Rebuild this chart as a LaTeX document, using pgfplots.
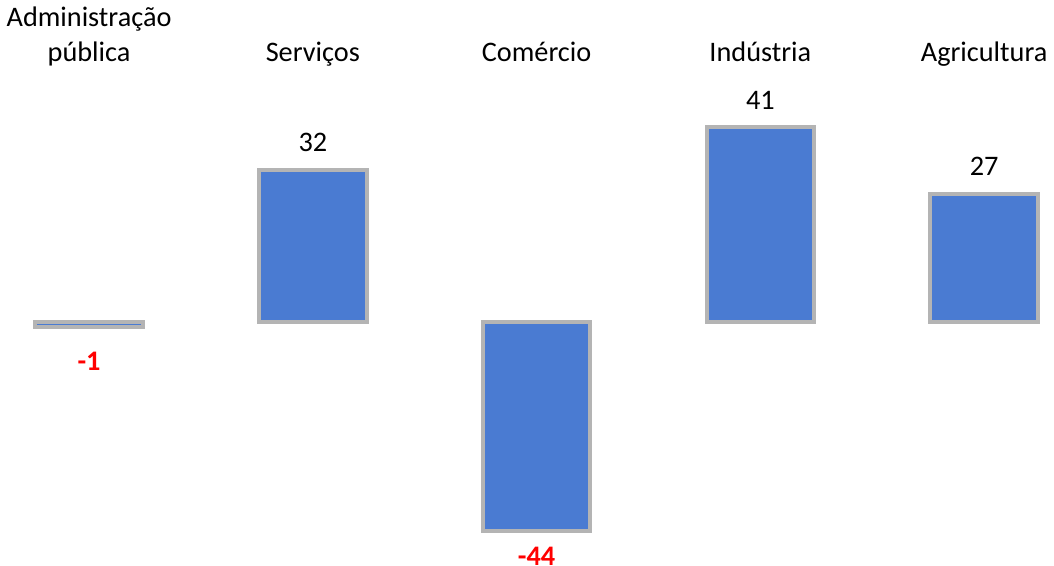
\documentclass[border=0pt]{standalone}
\usepackage{fontspec}
\setmainfont{Carlito}
\usepackage{pgfplots}
\pgfplotsset{compat=1.18}
\definecolor{barblue}{HTML}{4A7BD2}
\definecolor{bevel}{HTML}{B4B4B4}
\pgfplotsset{
  bevelbar/.style={fill=barblue, draw=bevel, line width=2pt, nodes near coords},
}
\begin{document}
\begin{tikzpicture}
\begin{axis}[
width=527pt, height=291pt, scale only axis,
xmin=-0.405, xmax=4.285, ymin=-54, ymax=68.1,
hide axis, clip=false,
ybar, bar width=0.48, bar shift=0pt,
/pgf/number format/assume math mode=true,
]
% positive values
\addplot[bevelbar,
  nodes near coords style={anchor=south, inner sep=0pt, yshift=8pt, text=black, font=\fontsize{14.2}{17}\selectfont}]
  coordinates {(1,32) (3,41) (4,27)};
% negative values
\addplot[bevelbar,
  nodes near coords style={anchor=north, inner sep=0pt, yshift=-12pt, text=red, font=\fontsize{14.2}{17}\selectfont\bfseries}]
  coordinates {(0,-1)};
\addplot[bevelbar,
  nodes near coords style={anchor=north, inner sep=0pt, yshift=-7pt, text=red, font=\fontsize{14.2}{17}\selectfont\bfseries}]
  coordinates {(2,-44)};

\begin{scope}[font=\fontsize{14.2}{17}\selectfont]
\node[anchor=base] at (axis cs:0,62.3) {Administração};
\node[anchor=base] at (axis cs:0,54.8) {pública};
\node[anchor=base] at (axis cs:1,54.8) {Serviços};
\node[anchor=base] at (axis cs:2,54.8) {Comércio};
\node[anchor=base] at (axis cs:3,54.8) {Indústria};
\node[anchor=base] at (axis cs:4,54.8) {Agricultura};
\end{scope}
\end{axis}
\end{tikzpicture}
\end{document}
